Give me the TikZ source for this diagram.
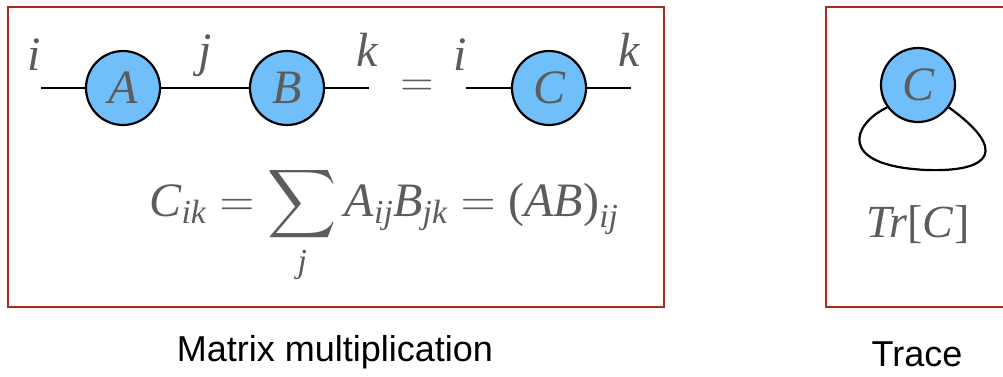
\RequirePackage{fix-cm}
\documentclass[tikz,border=0pt]{standalone}
\usepackage{amsmath}
\usepackage{fontspec}
\setmainfont{Liberation Serif}
\setsansfont{Liberation Sans}
\DeclareFontShape{OMX}{cmex}{m}{n}{<->cmex10}{}
\newcommand\vi[1]{\textit{#1}}
\definecolor{frameRed}{RGB}{168,45,32}
\definecolor{tensorBlue}{RGB}{112,191,250}
\definecolor{txtgray}{RGB}{92,92,92}
\begin{document}
\begin{tikzpicture}[x=1pt,y=-1pt,
  frame/.style={draw=frameRed, line width=2.5pt},
  tensor/.style={circle, draw=black, line width=2.2pt, fill=tensorBlue,
    minimum size=74pt, inner sep=0pt, text=txtgray,
    font=\fontsize{48}{52}\selectfont\itshape},
  idx/.style={anchor=base, text=txtgray, inner sep=0pt, font=\fontsize{48}{52}\selectfont\itshape},
  leg/.style={draw=black, line width=2.2pt},
  caption/.style={font=\sffamily\fontsize{36}{40}\selectfont, text=black, inner sep=0pt}]
\useasboundingbox (0,0) rectangle (1003,376);
% frames
\draw[frame] (8,7) rectangle (664,307);
\draw[frame] (826,7) rectangle (1012,307);
% left diagram
\coordinate (iL) at (41,88);
\coordinate (kL) at (369,88);
\node[tensor] (A) at (123,88) {A};
\node[tensor] (B) at (287,88) {B};
\draw[leg] (iL) -- (A) -- (B) -- (kL);
\node[idx] (li) at (34,70) {i};
\node[idx] (lj) at (205,66) {j};
\node[idx] (lk) at (367,66) {k};
\node[text=txtgray, inner sep=0pt, font=\fontsize{46}{50}\selectfont] (eq) at (417,88) {$=$};
\coordinate (iR) at (466,88);
\coordinate (kR) at (631,88);
\node[tensor] (C) at (549,88) {C};
\draw[leg] (iR) -- (C) -- (kR);
\node[idx] (ri) at (460,70) {i};
\node[idx] (rk) at (629,66) {k};
% equation
\node[anchor=base, text=txtgray, inner sep=0pt, font=\fontsize{48}{54}\selectfont] (formula) at (384,216)
  {$\displaystyle \vi{C}_{\vi{ik}}=\sum_{\vi{j}} \vi{A}_{\vi{ij}}\vi{B}_{\vi{jk}}=\textup{(}\vi{AB}\textup{)}_{\vi{ij}}$};
% trace
\node[tensor] (T) at (918,85) {C};
\draw[leg] (T.216) .. controls (852,124) and (836,166) .. (927,170)
  .. controls (992,172) and (1008,150) .. (T.-36);
\node[text=txtgray, inner sep=0pt, font=\fontsize{46}{50}\selectfont] (tr) at (918,225) {\vi{Tr}[\vi{C}]};
% captions
\node[caption] (cap1) at (335,352) {Matrix multiplication};
\node[caption] (cap2) at (917,354) {Trace};
\end{tikzpicture}
\end{document}
